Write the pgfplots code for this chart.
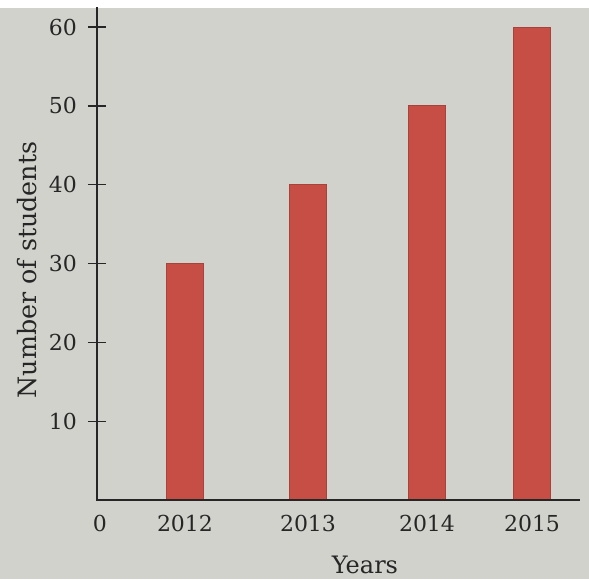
\documentclass[border=0pt]{standalone}
\usepackage{pgfplots}
\pgfplotsset{compat=1.18}
\usepackage{fontspec}
\setmainfont{DejaVu Serif}
\usetikzlibrary{backgrounds}
\definecolor{paper}{RGB}{210,210,205}
\definecolor{barred}{RGB}{198,78,68}
\definecolor{ink}{RGB}{38,38,38}
\begin{document}
\begin{tikzpicture}[x=0.75pt,y=0.75pt]
  \begin{axis}[
    at={(0,0)}, anchor=south west,
    scale only axis=true,
    width=362.25pt, height=369.5pt,
    xmin=0, xmax=483, ymin=0, ymax=62.5,
    axis line style={draw=none},
    ytick pos=left,
    tick align=outside,
    clip=false,
    ytick={10,20,30,40,50,60},
    xtick={3,88,211,330,435},
    xticklabels={0,2012,2013,2014,2015},
    xtick style={draw=none},
    ytick style={ink, line width=1pt, xshift=6.75pt},
    major tick length=13.5pt,
    /pgf/number format/assume math mode=true,
    ticklabel style={font=\fontsize{16.5}{18}\selectfont, text=ink},
    xticklabel shift=-6pt,
    yticklabel style={xshift=2pt},
  ]
    \addplot[ybar, bar width=37, fill=barred, draw=barred!85!black, line width=0.6pt]
      coordinates {(88,30) (211,40) (330,50) (435,60)};
    \draw[ink, line width=1pt] (axis cs:0,62.5) -- (axis cs:0,0) -- (axis cs:483,0);
  \end{axis}
  \node[font=\fontsize{19}{21}\selectfont, text=ink, rotate=90, anchor=center] at (-70,230) {Number of students};
  \node[font=\fontsize{18}{20}\selectfont, text=ink, anchor=center] at (268,-65) {Years};
  \begin{scope}[on background layer]
    \fill[paper] (-97,-79) rectangle (492,500);
    \fill[white] (-97,492) rectangle (492,500);
  \end{scope}
  \pgfresetboundingbox
  \path[use as bounding box] (-97,-79) rectangle (492,500);
\end{tikzpicture}
\end{document}
